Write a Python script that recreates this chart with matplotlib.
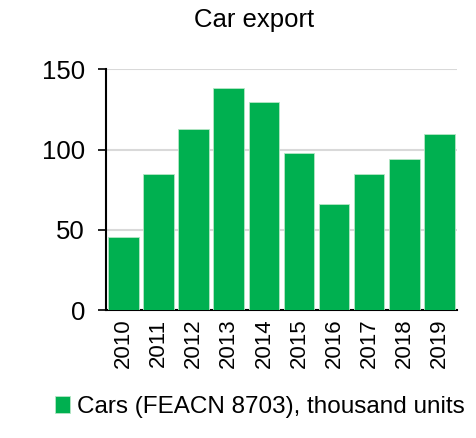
import numpy as np
import matplotlib.pyplot as plt

plt.rcParams['font.family'] = ['Liberation Sans', 'DejaVu Sans']

years = ['2010', '2011', '2012', '2013', '2014', '2015', '2016', '2017', '2018', '2019']
cars = [45.5, 85, 113, 138.5, 129.5, 98, 66, 85, 94, 109.5]

fig = plt.figure(figsize=(4.77, 4.38), dpi=100)
ax = fig.add_axes([0.222, 0.292, 0.736, 0.55])

x = np.arange(len(years))
ax.bar(x, cars, width=0.87, color='#00B050', edgecolor='#B5E6C6', linewidth=0.6,
       label='Cars (FEACN 8703), thousand units', zorder=3)

ax.set_xlim(-0.5, len(years) - 0.5)
ax.set_ylim(0, 150)
ax.set_yticks([0, 50, 100, 150])
ax.set_xticks(x)
ax.set_xticklabels(years, rotation=90, fontsize=16)
ax.tick_params(axis='y', labelsize=18.5, length=6, width=1.2, pad=9)
ax.tick_params(axis='x', length=0, pad=6)
ax.yaxis.grid(True, color='#D9D9D9', linewidth=1.5, zorder=0)

for side in ['top', 'right']:
    ax.spines[side].set_visible(False)
ax.spines['left'].set_linewidth(1.5)
ax.spines['bottom'].set_linewidth(1.5)

fig.text(0.533, 0.955, 'Car export', fontsize=18.5, ha='center', va='center')

fig.legend(loc='lower center', bbox_to_anchor=(0.545, -0.005), frameon=False,
           fontsize=17.5, handlelength=0.6, handleheight=0.7, handletextpad=0.3)

fig.savefig('out.png', dpi=100)
